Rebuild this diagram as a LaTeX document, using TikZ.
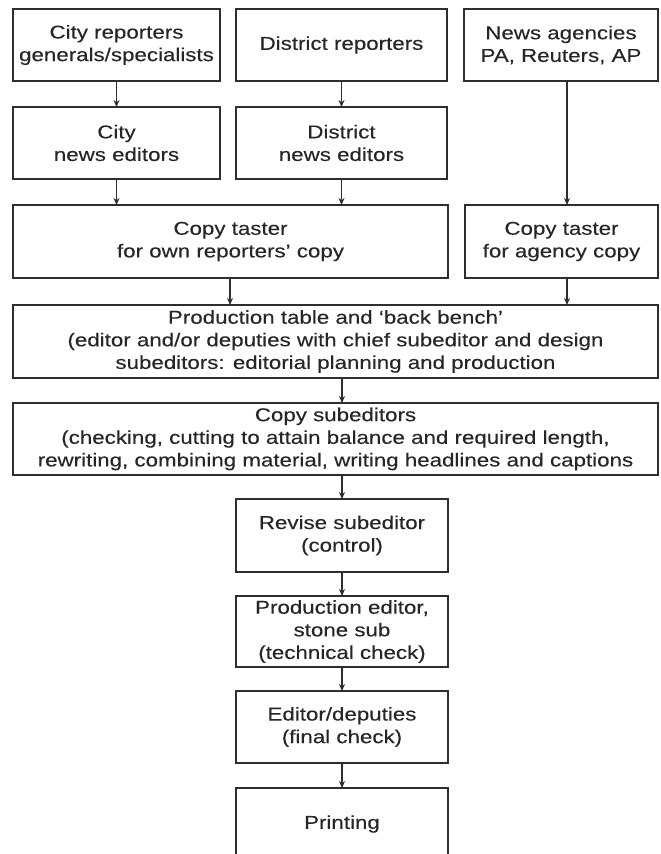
\documentclass[tikz,border=0pt]{standalone}
\usepackage{fontspec}
\setmainfont[FakeStretch=1.2,FakeBold=0.2]{Liberation Sans}
\usetikzlibrary{arrows.meta}
\definecolor{ln}{HTML}{2e2e2e}
\definecolor{tx}{HTML}{262626}
\begin{document}
\begin{tikzpicture}[x=1bp,y=-1bp,
  box/.style={draw=ln,line width=1.5bp,align=center,inner sep=0pt,outer sep=0pt,text=tx,
    font=\fontsize{18.6bp}{22.6bp}\selectfont},
  arr/.style={draw=ln,line width=1.4bp,-{Stealth[length=7bp,width=6bp]}}]
\useasboundingbox (0,0) rectangle (661,854);
\clip (0,0) rectangle (661,854);
% top row
\node[box,minimum width=207bp,minimum height=72bp] (cityrep) at (116.5,45) {City reporters\\generals/specialists};
\node[box,minimum width=211bp,minimum height=72bp] (distrep) at (341.5,45) {District reporters};
\node[box,minimum width=194bp,minimum height=72bp] (agency) at (561,45) {News agencies\\PA, Reuters, AP};
% editors
\node[box,minimum width=207bp,minimum height=72bp] (cityed) at (116.5,143) {City\\news editors};
\node[box,minimum width=211bp,minimum height=72bp] (disted) at (341.5,143) {District\\news editors};
% tasters
\node[box,minimum width=435bp,minimum height=73bp] (tasterown) at (230.5,241.5) {Copy taster\\for own reporters’ copy};
\node[box,minimum width=193bp,minimum height=73bp] (tasteragency) at (561.5,241.5) {Copy taster\\for agency copy};
% production table
\node[box,minimum width=645bp,minimum height=73bp] (prod) at (335.5,341.5) {Production table and ‘back bench’\\(editor and/or deputies with chief subeditor and design\\subeditors: editorial planning and production};
\node[box,minimum width=645bp,minimum height=72bp] (copysub) at (335.5,439) {Copy subeditors\\(checking, cutting to attain balance and required length,\\rewriting, combining material, writing headlines and captions};
% chain
\node[box,minimum width=212bp,minimum height=73bp] (revise) at (342,535.5) {Revise subeditor\\(control)};
\node[box,minimum width=212bp,minimum height=71bp] (prodeditor) at (342,631.5) {Production editor,\\stone sub\\(technical check)};
\node[box,minimum width=212bp,minimum height=72bp] (editor) at (342,727) {Editor/deputies\\(final check)};
\node[box,minimum width=212bp,minimum height=72bp] (printing) at (342,824) {Printing};
% x positions
\coordinate (xa) at (567,0);
\coordinate (xo) at (230,0);
\coordinate (xc) at (116.5,0);
\coordinate (xd) at (341.5,0);
\coordinate (xm) at (342,0);
% arrows
\draw[arr] (cityrep) -- (cityed);
\draw[arr] (distrep) -- (disted);
\draw[arr] (cityed.south -| xc) -- (tasterown.north -| xc);
\draw[arr] (disted.south -| xd) -- (tasterown.north -| xd);
\draw[arr] (agency.south -| xa) -- (tasteragency.north -| xa);
\draw[arr] (tasterown.south -| xo) -- (prod.north -| xo);
\draw[arr] (tasteragency.south -| xa) -- (prod.north -| xa);
\draw[arr] (prod.south -| xm) -- (copysub.north -| xm);
\draw[arr] (copysub.south -| xm) -- (revise.north -| xm);
\draw[arr] (revise) -- (prodeditor);
\draw[arr] (prodeditor) -- (editor);
\draw[arr] (editor) -- (printing);
\end{tikzpicture}
\end{document}
